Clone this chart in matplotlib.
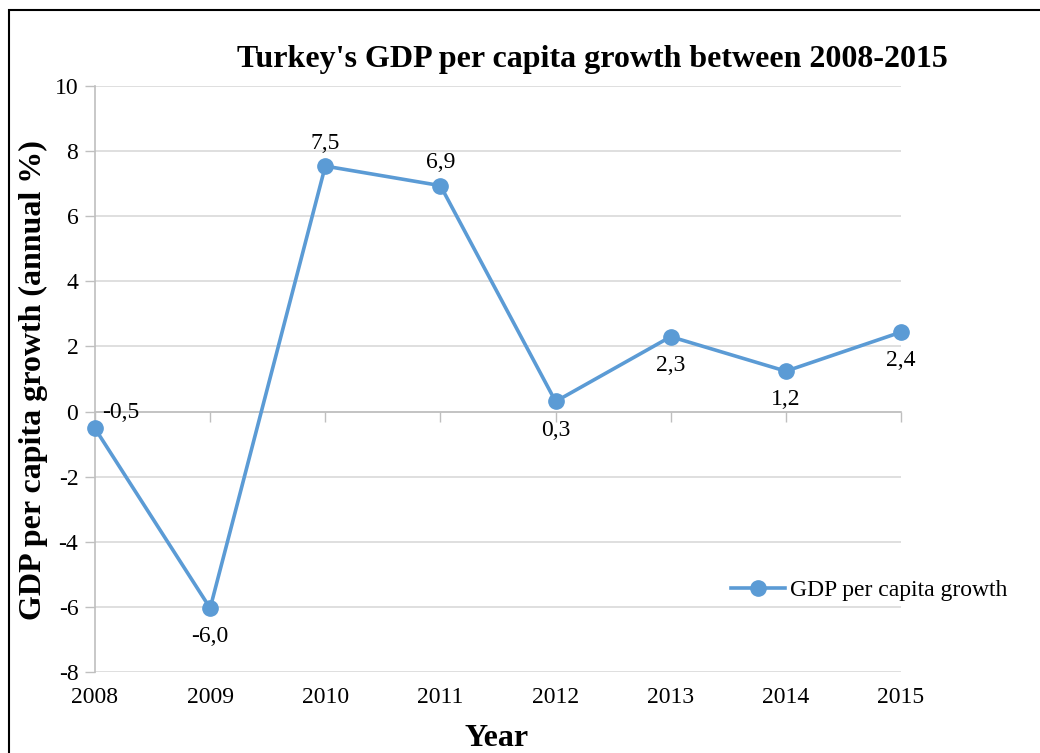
import matplotlib
matplotlib.use("Agg")
import matplotlib.pyplot as plt
import matplotlib.transforms as mtransforms
from matplotlib.patches import Rectangle

# Data
years = [2008, 2009, 2010, 2011, 2012, 2013, 2014, 2015]
growth = [-0.52, -6.04, 7.54, 6.94, 0.31, 2.30, 1.24, 2.44]
label_pos = ["right", "below", "above", "above", "below", "below", "below", "below"]
y_ticks = [-8, -6, -4, -2, 0, 2, 4, 6, 8, 10]

title = "Turkey's GDP per capita growth between 2008-2015"
y_title = "GDP per capita growth (annual %)"
x_title = "Year"
series_name = "GDP per capita growth"

plt.rcParams["font.family"] = ["Liberation Serif", "DejaVu Serif"]

W, H = 1040, 753
fig = plt.figure(figsize=(W / 100, H / 100), dpi=100)
fig.patch.set_facecolor("white")

ax = fig.add_axes([95 / W, 1 - 672 / H, (901 - 95) / W, (672 - 86) / H])

line_color = "#5B9BD5"
grid_color = "#D9D9D9"
axis_color = "#BFBFBF"
fs = 17

ax.set_xlim(years[0], years[-1])
ax.set_ylim(y_ticks[0], y_ticks[-1])
ax.set_yticks(y_ticks)
ax.set_yticklabels([str(t) for t in y_ticks], fontsize=fs)
ax.set_xticks(years)
ax.tick_params(axis="x", labelbottom=False, direction="out", length=7,
               color=axis_color, width=1)
ax.tick_params(axis="y", direction="out", length=7, color=axis_color,
               width=1, pad=5)

for t in y_ticks:
    ax.axhline(t, color=grid_color, lw=1.2, zorder=0)

for s in ["top", "right"]:
    ax.spines[s].set_visible(False)
ax.spines["left"].set_color(axis_color)
ax.spines["left"].set_linewidth(1.2)
ax.spines["bottom"].set_position(("data", 0))
ax.spines["bottom"].set_color(axis_color)
ax.spines["bottom"].set_linewidth(1.2)

# Category labels under the plot area
trans = mtransforms.blended_transform_factory(ax.transData, ax.transAxes)
for yr in years:
    ax.annotate(str(yr), xy=(yr, 0), xycoords=trans, xytext=(0, -11),
                textcoords="offset points", ha="center", va="top", fontsize=fs)

ax.plot(years, growth, color=line_color, lw=2.6, marker="o", markersize=11,
        label=series_name, zorder=3, clip_on=False)

for x, v, pos in zip(years, growth, label_pos):
    txt = f"{v:.1f}".replace(".", ",")
    if pos == "above":
        off, ha, va = (0, 9), "center", "bottom"
    elif pos == "below":
        off, ha, va = (0, -13), "center", "top"
    else:
        off, ha, va = (5, 4), "left", "bottom"
    ax.annotate(txt, xy=(x, v), xytext=off, textcoords="offset points",
                ha=ha, va=va, fontsize=fs)

fig.text(592 / W, 1 - 59 / H, title, ha="center", va="center",
         fontsize=23, fontweight="bold")
fig.text(33 / W, 1 - 380 / H, y_title, ha="center", va="center",
         rotation=90, fontsize=23, fontweight="bold")
fig.text(497 / W, 1 - 738 / H, x_title, ha="center", va="center",
         fontsize=23, fontweight="bold")

fig.legend(loc="center left", bbox_to_anchor=(731 / W, 1 - 590 / H),
           frameon=False, fontsize=fs, handlelength=2.3, handletextpad=0.2,
           borderpad=0, borderaxespad=0)

# Chart frame
fig.patches.append(Rectangle((9 / W, -0.2), 1.2, 1.2 - 10 / H,
                             transform=fig.transFigure, fill=False,
                             edgecolor="black", lw=1.5))

fig.savefig("out.png", dpi=100)
